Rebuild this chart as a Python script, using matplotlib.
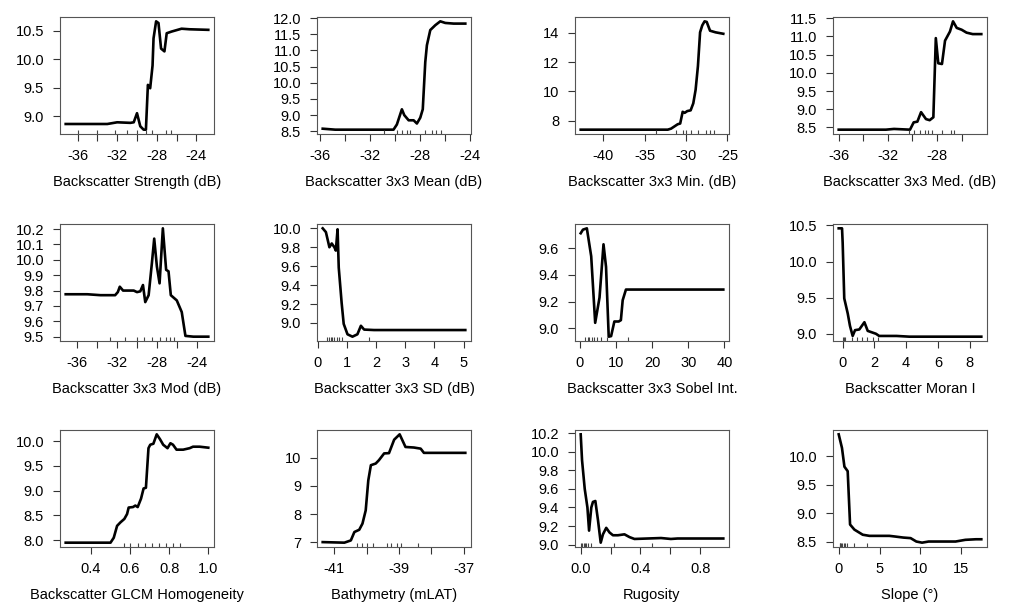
import matplotlib
matplotlib.use("Agg")
import matplotlib.pyplot as plt
import numpy as np

plt.rcParams["font.family"] = ["Liberation Sans", "DejaVu Sans"]
plt.rcParams["font.size"] = 10

# partial dependence curves (x, y per variable)
bs_x = [-37.2, -33.0, -32.0, -30.67, -30.33, -30.0, -29.67, -29.33, -29.1, -28.9, -28.67,
        -28.43, -28.33, -28.07, -27.83, -27.57, -27.23, -27.0, -26.5, -25.5, -24.7, -22.8]
bs_y = [8.86, 8.86, 8.89, 8.88, 8.89, 9.05, 8.82, 8.76, 8.76, 9.55, 9.49,
        9.89, 10.37, 10.67, 10.64, 10.19, 10.14, 10.46, 10.49, 10.54, 10.53, 10.52]
bs_rug = [-36.0, -34.0, -32.2, -31.0, -30.0, -29.1, -28.5, -27.1, -26.6]

mean_x = [-35.8, -34.8, -30.14, -29.87, -29.47, -29.28, -28.93, -28.53, -28.27, -28.0,
          -27.8, -27.6, -27.47, -27.2, -26.8, -26.4, -26.0, -25.33, -24.4]
mean_y = [8.58, 8.55, 8.55, 8.71, 9.18, 9.0, 8.84, 8.84, 8.74, 8.92,
          9.18, 10.64, 11.16, 11.63, 11.78, 11.9, 11.85, 11.83, 11.83]
mean_rug = [-30.9, -29.87, -29.47, -29.07, -28.8, -27.6, -27.07, -26.72, -26.32]

min_x = [-42.7, -32.2, -31.8, -31.0, -30.7, -30.4, -30.16, -29.84, -29.44, -29.12,
         -28.84, -28.56, -28.3, -28.04, -27.76, -27.5, -27.1, -26.44, -25.5]
min_y = [7.38, 7.38, 7.45, 7.75, 7.8, 8.6, 8.53, 8.65, 8.7, 9.18,
         10.1, 11.72, 14.03, 14.5, 14.78, 14.74, 14.14, 14.03, 13.93]
min_rug = [-33.6, -31.2, -30.4, -29.96, -29.4, -28.6, -27.6, -27.1, -26.6]

med_x = [-36.0, -32.16, -31.5, -30.2, -29.9, -29.6, -29.3, -28.9, -28.6, -28.3, -28.1,
         -27.9, -27.6, -27.35, -26.95, -26.7, -26.4, -26.0, -25.6, -25.1, -24.4]
med_y = [8.44, 8.44, 8.46, 8.44, 8.64, 8.66, 8.92, 8.73, 8.7, 8.78, 10.95,
         10.26, 10.24, 10.88, 11.13, 11.41, 11.23, 11.18, 11.1, 11.06, 11.06]
med_rug = [-30.3, -29.9, -29.4, -29.0, -28.7, -28.4, -27.6, -26.9, -26.6]

mod_x = [-37.17, -35.0, -33.67, -32.2, -31.93, -31.73, -31.4, -30.33, -30.0, -29.67, -29.4,
         -29.17, -28.83, -28.5, -28.27, -28.0, -27.73, -27.4, -27.07, -26.83, -26.6, -26.0,
         -25.5, -25.13, -24.33, -22.83]
mod_y = [9.776, 9.776, 9.77, 9.77, 9.79, 9.825, 9.80, 9.80, 9.79, 9.795, 9.836,
         9.725, 9.77, 9.98, 10.138, 9.957, 9.847, 10.205, 9.935, 9.925, 9.77, 9.736,
         9.66, 9.505, 9.50, 9.50]
mod_rug = [-32.7, -31.2, -30.0, -29.27, -28.5, -27.73, -27.1, -26.67, -26.27]

sd_x = [0.17, 0.28, 0.40, 0.48, 0.57, 0.62, 0.68, 0.72, 0.82, 0.89, 1.02, 1.19, 1.36,
        1.48, 1.59, 1.93, 5.06]
sd_y = [10.0, 9.96, 9.80, 9.84, 9.80, 9.765, 9.99, 9.585, 9.21, 8.99, 8.88, 8.855, 8.88,
        8.97, 8.93, 8.925, 8.925]
sd_rug = [0.32, 0.38, 0.45, 0.5, 0.57, 0.65, 0.74, 0.83, 1.77]

sob_x = [0.3, 0.92, 2.0, 3.2, 4.3, 5.5, 6.6, 7.3, 8.04, 8.7, 9.6, 10.8, 11.4, 11.9, 12.8, 39.7]
sob_y = [9.713, 9.74, 9.75, 9.54, 9.04, 9.23, 9.63, 9.46, 8.936, 8.94, 9.05, 9.05, 9.06,
         9.21, 9.29, 9.29]
sob_rug = [1.5, 2.2, 2.7, 3.4, 3.9, 4.9, 5.8, 7.5, 13.5]

mor_x = [-0.25, -0.04, 0.0, 0.1, 0.32, 0.46, 0.63, 0.78, 1.05, 1.37, 1.58, 2.1, 2.3, 3.4,
         4.2, 8.74]
mor_y = [10.46, 10.46, 10.26, 9.49, 9.28, 9.11, 8.97, 9.05, 9.06, 9.16, 9.04, 9.0, 8.97,
         8.97, 8.96, 8.96]
mor_rug = [0.0, 0.06, 0.17, 0.59, 0.9, 1.22, 1.54, 1.9, 2.2]

glcm_x = [0.273, 0.5015, 0.518, 0.535, 0.552, 0.572, 0.586, 0.594, 0.616, 0.628, 0.64,
          0.657, 0.67, 0.682, 0.695, 0.704, 0.72, 0.737, 0.754, 0.77, 0.792, 0.807, 0.82,
          0.838, 0.872, 0.905, 0.922, 0.956, 1.0]
glcm_y = [7.95, 7.95, 8.05, 8.29, 8.36, 8.43, 8.53, 8.66, 8.67, 8.7, 8.67,
          8.84, 9.045, 9.06, 9.86, 9.93, 9.95, 10.14, 10.04, 9.93, 9.86, 9.96, 9.93,
          9.83, 9.83, 9.86, 9.89, 9.89, 9.87]
glcm_rug = [0.569, 0.6, 0.64, 0.679, 0.713, 0.75, 0.784, 0.822, 0.856]

bath_x = [-41.36, -40.69, -40.49, -40.38, -40.23, -40.13, -40.03, -39.95, -39.87, -39.72,
          -39.62, -39.46, -39.31, -39.15, -38.98, -38.8, -38.54, -38.33, -38.23, -36.95]
bath_y = [7.0, 6.98, 7.06, 7.36, 7.44, 7.66, 8.13, 9.2, 9.74, 9.8,
          9.92, 10.16, 10.17, 10.65, 10.84, 10.39, 10.37, 10.33, 10.18, 10.18]
bath_rug = [-40.3, -40.16, -40.0, -39.79, -39.38, -39.24, -39.05, -38.95, -38.41]

rug_x = [0.0, 0.009, 0.027, 0.045, 0.056, 0.071, 0.082, 0.098, 0.116, 0.134, 0.149, 0.171,
         0.193, 0.216, 0.249, 0.293, 0.327, 0.36, 0.449, 0.538, 0.604, 0.649, 0.955]
rug_y = [10.19, 9.91, 9.6, 9.40, 9.15, 9.40, 9.46, 9.47, 9.26, 9.02, 9.11, 9.18,
         9.13, 9.10, 9.10, 9.11, 9.08, 9.06, 9.065, 9.07, 9.06, 9.065, 9.065]
rug_rug = [0.005, 0.012, 0.022, 0.03, 0.036, 0.049, 0.071, 0.226, 0.475]

slope_x = [0.0, 0.4, 0.7, 1.1, 1.39, 1.92, 2.94, 3.76, 6.2, 6.8, 7.9, 8.8, 9.5, 10.2,
           11.0, 14.3, 15.5, 16.8, 17.45]
slope_y = [10.39, 10.15, 9.82, 9.74, 8.80, 8.71, 8.62, 8.60, 8.60, 8.59, 8.57, 8.56, 8.50,
           8.48, 8.50, 8.50, 8.53, 8.54, 8.54]
slope_rug = [0.1, 0.2, 0.3, 0.45, 0.6, 0.8, 1.05, 1.85, 3.5]

labels = ["Backscatter Strength (dB)", "Backscatter 3x3 Mean (dB)", "Backscatter 3x3 Min. (dB)",
          "Backscatter 3x3 Med. (dB)", "Backscatter 3x3 Mod (dB)", "Backscatter 3x3 SD (dB)",
          "Backscatter 3x3 Sobel Int.", "Backscatter Moran I",
          "Backscatter GLCM Homogeneity", "Bathymetry (mLAT)", "Rugosity", "Slope (°)"]

def ticks(a, b, s):
    return list(np.round(np.arange(a, b + s / 2, s), 6))

# x ticks and which of them carry labels (R drops overlapping labels)
x_ticks = [ticks(-36, -24, 2), ticks(-36, -24, 2), ticks(-40, -25, 5), ticks(-36, -26, 2),
           ticks(-36, -24, 2), ticks(0, 5, 1), ticks(0, 40, 10), ticks(0, 8, 2),
           ticks(0.4, 1.0, 0.2), ticks(-41, -37, 1), ticks(0, 0.8, 0.2), ticks(0, 15, 5)]
x_every = [2, 2, 1, 2, 2, 1, 1, 1, 1, 2, 2, 1]
x_fmt = ["{:.0f}"] * 8 + ["{:.1f}", "{:.0f}", "{:.1f}", "{:.0f}"]
y_ticks = [ticks(9.0, 10.5, 0.5), ticks(8.5, 12.0, 0.5), ticks(8, 14, 2), ticks(8.5, 11.5, 0.5),
           ticks(9.5, 10.2, 0.1), ticks(9.0, 10.0, 0.2), ticks(9.0, 9.6, 0.2), ticks(9.0, 10.5, 0.5),
           ticks(8.0, 10.0, 0.5), ticks(7, 10, 1), ticks(9.0, 10.2, 0.2), ticks(8.5, 10.0, 0.5)]
y_fmt = ["{:.1f}", "{:.1f}", "{:.0f}", "{:.1f}", "{:.1f}", "{:.1f}", "{:.1f}", "{:.1f}",
         "{:.1f}", "{:.0f}", "{:.1f}", "{:.1f}"]

series = [(bs_x, bs_y, bs_rug), (mean_x, mean_y, mean_rug), (min_x, min_y, min_rug),
          (med_x, med_y, med_rug), (mod_x, mod_y, mod_rug), (sd_x, sd_y, sd_rug),
          (sob_x, sob_y, sob_rug), (mor_x, mor_y, mor_rug), (glcm_x, glcm_y, glcm_rug),
          (bath_x, bath_y, bath_rug), (rug_x, rug_y, rug_rug), (slope_x, slope_y, slope_rug)]

W, H = 1016, 602
fig = plt.figure(figsize=(W / 100, H / 100), dpi=100)
lefts = [60, 317, 575, 833]
tops = [17, 224, 430]
pw, ph = 154, 117

for i, (xs, ys, rug) in enumerate(series):
    r, c = divmod(i, 4)
    ax = fig.add_axes([lefts[c] / W, 1 - (tops[r] + ph) / H, pw / W, ph / H])
    ax.plot(xs, ys, color="black", lw=1.9, solid_joinstyle="round")
    # R-style 4% padding
    xr = max(xs) - min(xs)
    yr = max(ys) - min(ys)
    ax.set_xlim(min(xs) - 0.04 * xr, max(xs) + 0.04 * xr)
    ax.set_ylim(min(ys) - 0.04 * yr, max(ys) + 0.04 * yr)
    # deciles rug
    ax.vlines(rug, 0, 0.035, transform=ax.get_xaxis_transform(), color="#444444", lw=0.8)
    xt = x_ticks[i]
    ax.set_xticks(xt)
    ax.set_xticklabels([x_fmt[i].format(v) if k % x_every[i] == 0 else ""
                        for k, v in enumerate(xt)])
    ax.set_yticks(y_ticks[i])
    ax.set_yticklabels([y_fmt[i].format(v) for v in y_ticks[i]])
    ax.tick_params(direction="out", length=5, width=0.8, color="#333333",
                   labelsize=10.5)
    ax.tick_params(axis="y", pad=6.5)
    ax.tick_params(axis="x", pad=5.5)
    for s in ax.spines.values():
        s.set_color("#555555")
        s.set_linewidth(0.8)
    ax.set_xlabel(labels[i], fontsize=10.5, labelpad=9)

fig.savefig("out.png", dpi=100)
